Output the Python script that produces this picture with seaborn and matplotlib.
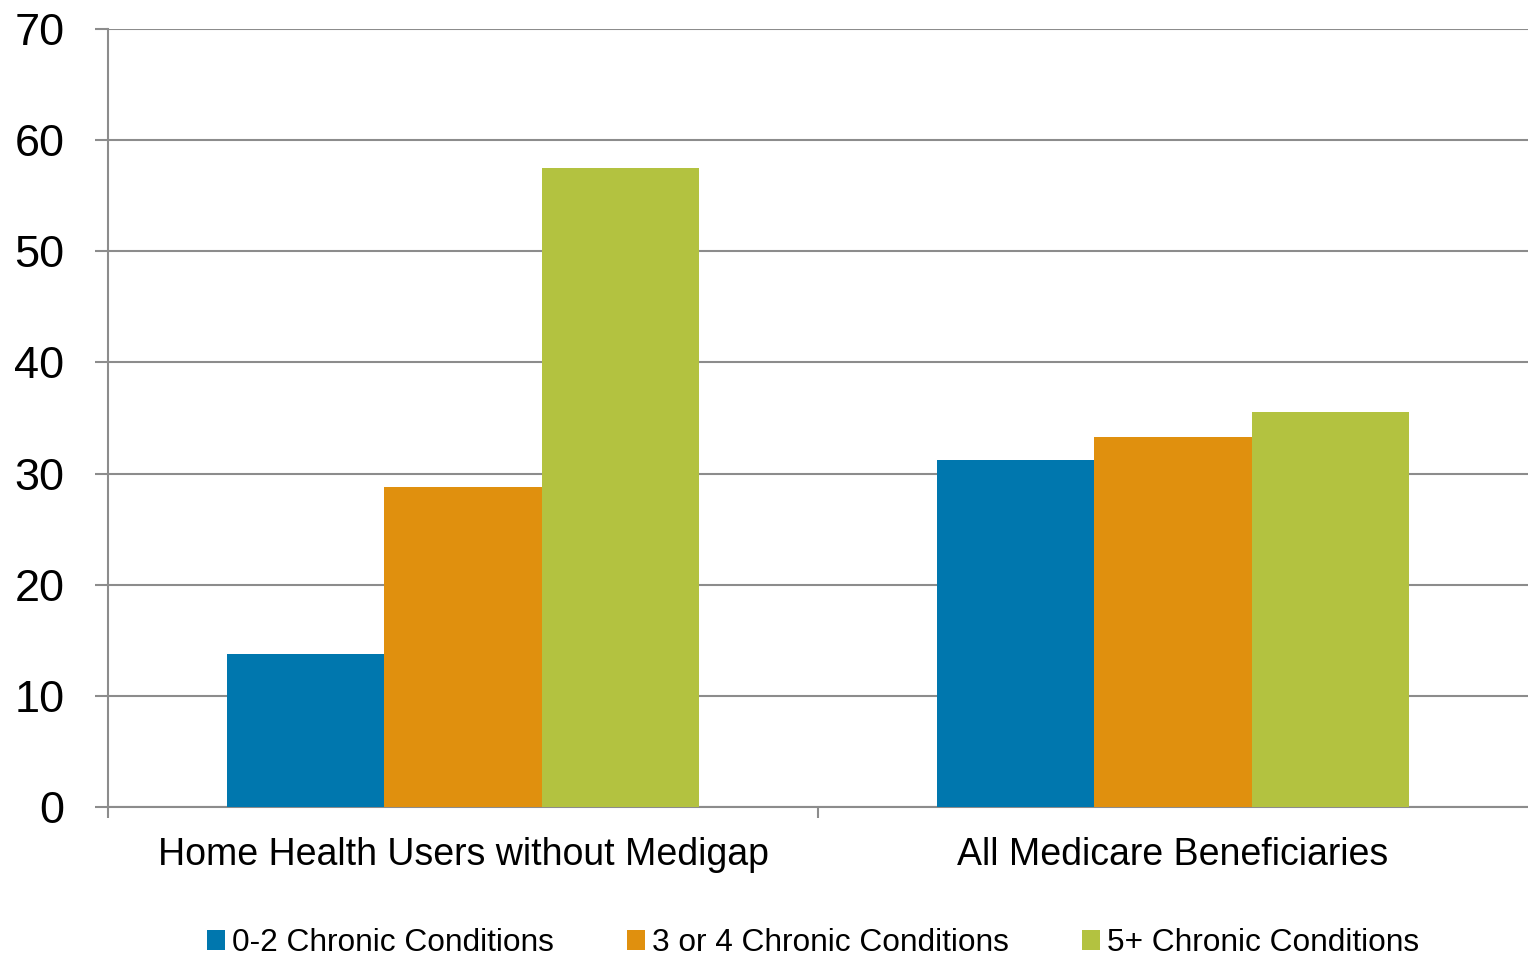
import matplotlib
matplotlib.use("Agg")
import matplotlib.pyplot as plt
import seaborn as sns
import pandas as pd
from matplotlib.patches import Patch

groups = ["Home Health Users without Medigap", "All Medicare Beneficiaries"]
series = ["0-2 Chronic Conditions", "3 or 4 Chronic Conditions", "5+ Chronic Conditions"]
values_02 = [13.8, 31.2]
values_34 = [28.8, 33.3]
values_5p = [57.5, 35.5]
colors = ["#0077AE", "#E0900E", "#B3C240"]

rows = []
for s, vals in zip(series, [values_02, values_34, values_5p]):
    for g, v in zip(groups, vals):
        rows.append({"group": g, "series": s, "value": v})
df = pd.DataFrame(rows)

sns.set_theme(style="white")
plt.rcParams["font.family"] = ["Liberation Sans", "DejaVu Sans"]
plt.rcParams["text.color"] = "black"

fig = plt.figure(figsize=(15.28, 9.59), dpi=100)
ax = fig.add_axes([108/1528, 152/959, 1 - 108/1528, (807-29)/959])

sns.barplot(data=df, x="group", y="value", hue="series", order=groups,
            hue_order=series, palette=colors, width=0.665, gap=0,
            linewidth=0, saturation=1, ax=ax, legend=False, zorder=3)

grid_c = "#8C8C8C"
ax.set_ylim(0, 70)
ax.set_yticks(range(0, 71, 10))
ax.set_xlim(-0.5, 1.5)
ax.yaxis.grid(True, color=grid_c, linewidth=1.5, zorder=0)
ax.set_axisbelow(True)
for side in ["top", "right"]:
    ax.spines[side].set_visible(False)
ax.spines["left"].set_color(grid_c)
ax.spines["left"].set_linewidth(1.5)
ax.spines["bottom"].set_color(grid_c)
ax.spines["bottom"].set_linewidth(1.5)
ax.set_xticks([-0.5, 0.5])
ax.set_xticklabels([])
ax.tick_params(axis="x", which="major", length=8, width=1.5, color=grid_c, direction="out", bottom=True)
ax.tick_params(axis="y", length=9.5, width=1.5, color=grid_c, direction="out", left=True,
               labelsize=32.5, pad=22, labelcolor="black")
for i, g in enumerate(groups):
    ax.text(i, -2.7, g, ha="center", va="top", fontsize=27, color="black")
ax.set_xlabel("")
ax.set_ylabel("")

handles = [Patch(facecolor=c, edgecolor="none") for c in colors]
fig.legend(handles, series, loc="lower center", bbox_to_anchor=(0.532, -0.029), ncol=3,
           frameon=False, fontsize=22.8, handlelength=0.58, handleheight=0.58,
           handletextpad=0.22, columnspacing=2.3, labelcolor="black")

fig.savefig("out.png", dpi=100)
